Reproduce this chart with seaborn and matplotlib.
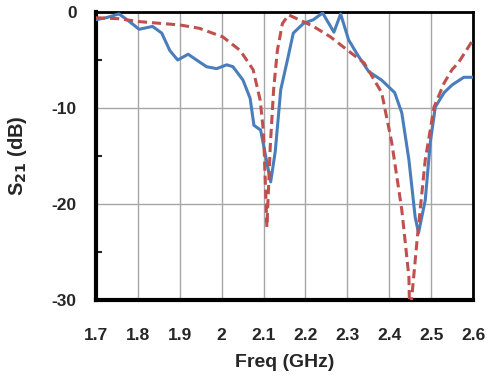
import numpy as np
import pandas as pd
import matplotlib
matplotlib.use("Agg")
import matplotlib.pyplot as plt
import seaborn as sns
from matplotlib.ticker import MultipleLocator

# measured (solid blue)
meas_freq = [1.70, 1.724, 1.755, 1.78, 1.803, 1.835, 1.857, 1.876, 1.895, 1.92, 1.94, 1.964,
             1.988, 2.012, 2.027, 2.051, 2.068, 2.077, 2.093, 2.105, 2.117, 2.128,
             2.141, 2.157, 2.171, 2.195, 2.219, 2.241, 2.268, 2.284, 2.303, 2.325, 2.351,
             2.382, 2.413, 2.43, 2.447, 2.462, 2.47, 2.486, 2.498, 2.51, 2.531, 2.55,
             2.578, 2.60]
meas_s21 = [-0.8, -0.6, -0.2, -1.0, -1.8, -1.5, -2.2, -4.0, -5.0, -4.4, -5.0, -5.7,
            -5.9, -5.5, -5.7, -7.1, -9.0, -11.8, -12.3, -15.0, -17.7, -14.5,
            -8.1, -5.0, -2.2, -1.2, -0.8, -0.1, -2.1, -0.2, -2.9, -4.5, -6.2,
            -7.1, -8.4, -10.5, -15.4, -21.4, -23.0, -19.6, -13.6, -9.9, -8.4, -7.6,
            -6.8, -6.8]

# simulated (dashed red)
sim_freq = [1.70, 1.755, 1.803, 1.90, 1.947, 2.003, 2.044, 2.075, 2.092, 2.10, 2.108,
            2.116, 2.124, 2.133, 2.145, 2.16, 2.219, 2.26, 2.301, 2.34, 2.382, 2.406,
            2.43, 2.447, 2.449, 2.466, 2.486, 2.507, 2.531, 2.55, 2.565, 2.60]
sim_s21 = [-0.6, -0.7, -1.0, -1.35, -1.7, -2.6, -4.0, -6.0, -9.2, -12.6, -22.4,
           -14.0, -8.1, -4.0, -1.2, -0.3, -1.5, -2.6, -4.0, -5.3, -8.4, -13.6,
           -20.6, -27.6, -32.0, -24.0, -15.4, -9.9, -7.4, -6.0, -5.3, -2.9]

x_ticks = [1.7, 1.8, 1.9, 2.0, 2.1, 2.2, 2.3, 2.4, 2.5, 2.6]
x_tick_labels = ["1.7", "1.8", "1.9", "2", "2.1", "2.2", "2.3", "2.4", "2.5", "2.6"]
y_ticks = [0, -10, -20, -30]
y_tick_labels = ["0", "-10", "-20", "-30"]

sns.set_style("white")
plt.rcParams['font.family'] = ['Liberation Sans', 'DejaVu Sans']

fig = plt.figure(figsize=(4.9, 3.77), dpi=100)
ax = fig.add_axes([96/490, 1 - 300/377, (473-96)/490, (300-12)/377])

meas = pd.DataFrame({"f": meas_freq, "s": meas_s21})
sim = pd.DataFrame({"f": sim_freq, "s": sim_s21})

sns.lineplot(data=meas, x="f", y="s", ax=ax, color="#4A7EBB", linewidth=2.2,
             sort=False, estimator=None, zorder=3)
sns.lineplot(data=sim, x="f", y="s", ax=ax, color="#C0504D", linewidth=2.2,
             sort=False, estimator=None, zorder=4, linestyle=(0, (3, 1.6)))

ax.set_xlim(1.7, 2.6)
ax.set_ylim(-30, 0)
ax.set_xticks(x_ticks)
ax.set_xticklabels(x_tick_labels)
ax.set_yticks(y_ticks)
ax.set_yticklabels(y_tick_labels)
ax.yaxis.set_minor_locator(MultipleLocator(5))

ax.grid(True, which="major", color="#A6A6A6", linewidth=1.0, zorder=0)
ax.set_axisbelow(True)

for s in ax.spines.values():
    s.set_color("black")
    s.set_linewidth(2.0)
ax.spines["left"].set_linewidth(3.0)
ax.spines["bottom"].set_linewidth(3.0)

ax.tick_params(axis="x", which="major", direction="in", length=4, width=2,
               pad=20, labelsize=12.5)
ax.tick_params(axis="y", which="major", direction="in", length=5, width=2,
               pad=14, labelsize=12.5)
ax.tick_params(axis="y", which="minor", direction="in", length=4, width=1.5, left=True)
for lab in ax.get_xticklabels() + ax.get_yticklabels():
    lab.set_fontweight("bold")

ax.set_xlabel("Freq (GHz)", fontsize=14, fontweight="bold", labelpad=8)
ax.set_ylabel("S$_{\\mathbf{21}}$ (dB)", fontsize=14.5, fontweight="bold", labelpad=16)

fig.savefig("out.png", dpi=100)
